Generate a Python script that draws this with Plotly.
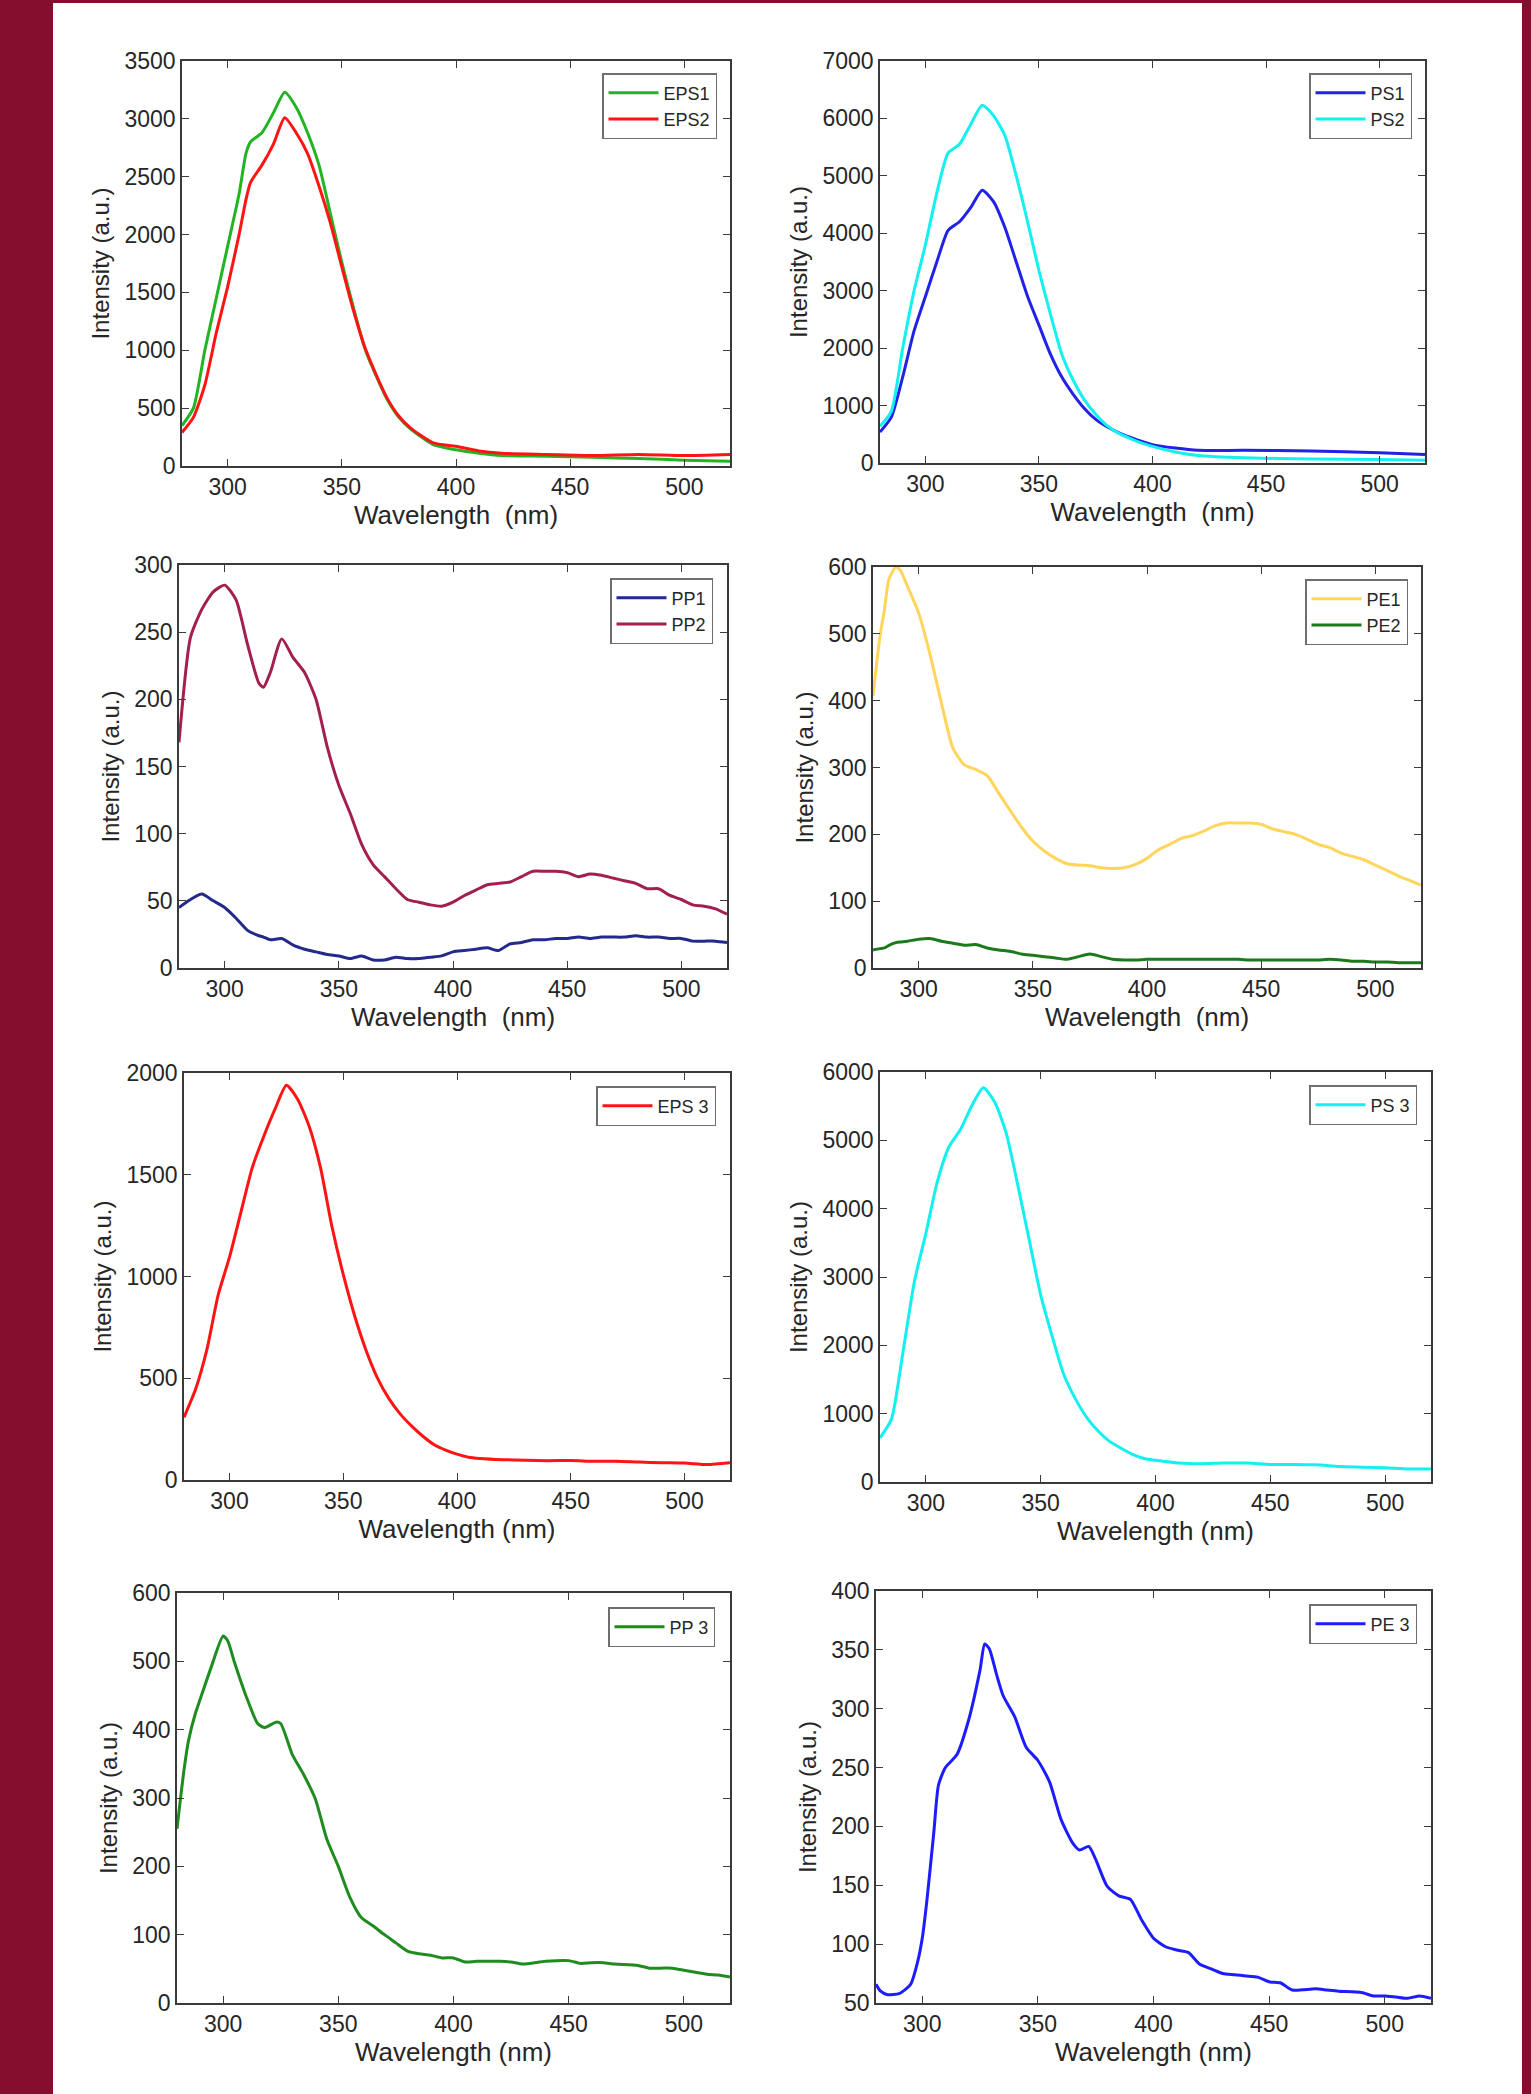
import plotly.graph_objects as go

# ---------------- data ----------------
# Panel 1: EPS1 / EPS2
wl_p1 = [280, 285, 290, 295, 300, 305, 308, 310, 315, 320, 325, 330, 335, 340, 345, 350, 355, 360,
         365, 370, 375, 380, 390, 400, 410, 420, 440, 460, 480, 500, 520]
eps1 = [350, 500, 1000, 1450, 1900, 2350, 2700, 2800, 2880, 3050, 3230, 3100, 2880, 2600, 2180, 1760,
        1375, 1020, 780, 570, 420, 320, 185, 140, 110, 90, 85, 75, 65, 50, 40]
eps2 = [290, 420, 700, 1150, 1550, 2000, 2300, 2450, 2600, 2780, 3010, 2880, 2700, 2420, 2100, 1720,
        1350, 1030, 790, 580, 430, 330, 200, 170, 130, 110, 100, 90, 100, 90, 100]

# Panel 2: PS1 / PS2
wl_p2 = [280, 285, 290, 295, 300, 305, 310, 315, 320, 325, 330, 335, 340, 345, 350, 355, 360, 365,
         370, 375, 380, 385, 390, 395, 400, 410, 420, 440, 470, 500, 520]
ps1 = [540, 800, 1500, 2300, 2900, 3500, 4050, 4200, 4450, 4750, 4550, 4100, 3500, 2900, 2400, 1900,
       1500, 1200, 950, 760, 630, 530, 450, 380, 320, 260, 220, 220, 210, 180, 150]
ps2 = [640, 900, 2000, 3000, 3800, 4700, 5400, 5550, 5900, 6230, 6050, 5700, 5000, 4200, 3350, 2600,
       1900, 1450, 1100, 850, 650, 520, 430, 350, 290, 190, 130, 90, 70, 60, 50]

# Panel 3: PP1 / PP2
wl_p3 = [280, 285, 290, 295, 300, 305, 310, 315, 317, 320, 325, 330, 335, 340, 345, 350, 355, 360,
         365, 370, 375, 380, 385, 390, 395, 400, 405, 410, 415, 420, 425, 430, 435, 440, 445, 450,
         455, 460, 465, 470, 475, 480, 485, 490, 495, 500, 505, 510, 515, 520]
pp1 = [45, 51, 55, 50, 45, 37, 28, 24, 23, 21, 22, 17, 14, 12, 10, 9, 7, 9,
       6, 6, 8, 7, 7, 8, 9, 12, 13, 14, 15, 13, 18, 19, 21, 21, 22, 22,
       23, 22, 23, 23, 23, 24, 23, 23, 22, 22, 20, 20, 20, 19]
pp2 = [168, 246, 267, 280, 285, 274, 241, 212, 209, 220, 245, 231, 220, 200, 164, 136, 115, 92,
       77, 68, 59, 51, 49, 47, 46, 49, 54, 58, 62, 63, 64, 68, 72, 72, 72, 71,
       68, 70, 69, 67, 65, 63, 59, 59, 54, 51, 47, 46, 44, 40]

# Panel 4: PE1 / PE2
wl_p4 = [280, 283, 285, 287, 290, 292, 295, 300, 305, 310, 315, 320, 325, 330, 335, 340, 345, 350,
         355, 360, 365, 370, 375, 380, 385, 390, 395, 400, 405, 410, 415, 420, 425, 430, 435, 440,
         445, 450, 455, 460, 465, 470, 475, 480, 485, 490, 495, 500, 505, 510, 515, 520]
pe1 = [407, 495, 536, 582, 600, 595, 572, 531, 469, 396, 329, 304, 297, 288, 262, 236, 211, 190,
       175, 164, 156, 154, 153, 150, 149, 150, 155, 164, 177, 185, 194, 198, 205, 213, 217, 217,
       217, 215, 208, 204, 200, 193, 185, 180, 172, 167, 162, 154, 146, 138, 131, 124]
pe2 = [27, 29, 30, 34, 38, 39, 40, 43, 44, 40, 37, 34, 35, 30, 27, 25, 21, 19,
       17, 15, 13, 17, 21, 17, 13, 12, 12, 13, 13, 13, 13, 13, 13, 13, 13, 13,
       12, 12, 12, 12, 12, 12, 12, 13, 12, 10, 10, 9, 9, 8, 8, 8]

# Panel 5: EPS 3
wl_p5 = [280, 285, 290, 295, 300, 305, 310, 315, 320, 325, 330, 335, 340, 345, 350, 355, 360, 365,
         370, 375, 380, 385, 390, 395, 400, 405, 410, 420, 430, 440, 450, 460, 470, 480, 490, 500,
         510, 520]
eps3 = [308, 443, 638, 909, 1095, 1315, 1535, 1687, 1822, 1940, 1870, 1738, 1535, 1247, 1010, 807,
        638, 502, 401, 325, 266, 215, 173, 147, 127, 112, 106, 100, 97, 95, 96, 92, 92, 88, 85, 83,
        76, 85]

# Panel 6: PS 3
wl_p6 = [280, 285, 290, 295, 300, 305, 310, 315, 320, 325, 330, 335, 340, 345, 350, 355, 360, 365,
         370, 375, 380, 385, 390, 395, 400, 410, 420, 430, 440, 450, 460, 470, 480, 490, 500, 510, 520]
ps3 = [645, 920, 1900, 2937, 3642, 4398, 4902, 5154, 5506, 5768, 5557, 5103, 4348, 3542, 2736, 2131,
       1577, 1224, 947, 746, 594, 494, 403, 343, 317, 277, 267, 277, 277, 257, 257, 252, 227, 217,
       207, 191, 191]

# Panel 7: PP 3
wl_p7 = [280, 283, 285, 288, 290, 295, 300, 302, 305, 310, 315, 318, 320, 323, 325, 330, 335, 340,
         345, 350, 355, 360, 365, 370, 375, 380, 385, 390, 395, 400, 405, 410, 420, 425, 430, 440,
         450, 455, 460, 465, 470, 480, 485, 490, 495, 500, 505, 510, 515, 520]
pp3 = [255, 340, 384, 424, 444, 493, 537, 530, 498, 449, 409, 403, 406, 411, 409, 364, 334, 299,
       240, 200, 155, 125, 113, 100, 88, 76, 72, 70, 66, 66, 60, 61, 61, 60, 57, 61,
       62, 58, 59, 59, 57, 55, 51, 51, 51, 48, 45, 42, 41, 38]

# Panel 8: PE 3
wl_p8 = [280, 282, 285, 290, 293, 295, 298, 300, 302, 305, 307, 310, 315, 320, 325, 327, 329, 332,
         335, 340, 345, 350, 355, 360, 365, 368, 372, 375, 380, 385, 390, 395, 400, 405, 410, 415,
         420, 425, 430, 435, 440, 445, 450, 455, 460, 470, 475, 480, 490, 495, 500, 505, 510, 515, 520]
pe3 = [66, 60, 57, 58, 62, 66, 85, 105, 137, 195, 235, 250, 261, 290, 333, 355, 351, 330,
       311, 293, 267, 256, 238, 206, 186, 180, 183, 172, 149, 141, 138, 120, 105, 98, 95, 93,
       83, 79, 75, 74, 73, 72, 68, 67, 61, 62, 61, 60, 59, 56, 56, 55, 54, 56, 54]

x_ticks = [300, 350, 400, 450, 500]

# ---------------- layout geometry (pixel boxes in a 1531 x 2094 page) ----------------
W, H = 1531, 2094
boxes = [  # (left, top, right, bottom)
    (182, 61, 730, 466), (880, 61, 1425, 463),
    (179, 565, 727, 968), (873, 567, 1421, 968),
    (184, 1073, 730, 1480), (880, 1072, 1431, 1482),
    (177, 1593, 730, 2003), (876, 1591, 1431, 2003),
]
legend_pos = [(717, 73), (1412, 73), (713, 578), (1408, 579),
              (716, 1086), (1417, 1085), (715, 1607), (1417, 1604)]

panels = [
    dict(series=[("EPS1", wl_p1, eps1, "#22b422"), ("EPS2", wl_p1, eps2, "#ff1414")],
         yr=[0, 3500], dy=500, xt="Wavelength\u00a0 (nm)"),
    dict(series=[("PS1", wl_p2, ps1, "#2222e6"), ("PS2", wl_p2, ps2, "#14f0f0")],
         yr=[0, 7000], dy=1000, xt="Wavelength\u00a0 (nm)"),
    dict(series=[("PP1", wl_p3, pp1, "#232a8c"), ("PP2", wl_p3, pp2, "#a31f4f")],
         yr=[0, 300], dy=50, xt="Wavelength\u00a0 (nm)"),
    dict(series=[("PE1", wl_p4, pe1, "#ffd55c"), ("PE2", wl_p4, pe2, "#1c7a1c")],
         yr=[0, 600], dy=100, xt="Wavelength\u00a0 (nm)"),
    dict(series=[("EPS 3", wl_p5, eps3, "#ff1414")],
         yr=[0, 2000], dy=500, xt="Wavelength (nm)"),
    dict(series=[("PS 3", wl_p6, ps3, "#14f0f0")],
         yr=[0, 6000], dy=1000, xt="Wavelength (nm)"),
    dict(series=[("PP 3", wl_p7, pp3, "#1f8c1f")],
         yr=[0, 600], dy=100, xt="Wavelength (nm)"),
    dict(series=[("PE 3", wl_p8, pe3, "#1c1cff")],
         yr=[50, 400], dy=50, xt="Wavelength (nm)"),
]

FONT = "Liberation Sans, Arial, sans-serif"
AX_COL = "#3a3a3a"
TXT_COL = "#262626"

fig = go.Figure()
layout = dict(
    width=W, height=H, autosize=False,
    margin=dict(l=0, r=0, t=0, b=0, pad=0, autoexpand=False),
    paper_bgcolor="white", plot_bgcolor="white",
    font=dict(family=FONT, color=TXT_COL),
    shapes=[
        dict(type="rect", xref="paper", yref="paper", x0=0, x1=53 / W, y0=0, y1=1,
             fillcolor="#850d2d", line=dict(width=0), layer="below"),
        dict(type="rect", xref="paper", yref="paper", x0=1522 / W, x1=1, y0=0, y1=1,
             fillcolor="#850d2d", line=dict(width=0), layer="below"),
        dict(type="rect", xref="paper", yref="paper", x0=0, x1=1, y0=1 - 3 / H, y1=1,
             fillcolor="#850d2d", line=dict(width=0), layer="below"),
    ],
)

for i, p in enumerate(panels):
    n = i + 1
    sfx = "" if n == 1 else str(n)
    l, t, r, b = boxes[i]
    leg = "legend" + sfx
    for name, xs, ys, col in p["series"]:
        fig.add_trace(go.Scatter(
            x=xs, y=ys, name=name, mode="lines",
            line=dict(color=col, width=3, shape="spline", smoothing=0.6),
            xaxis="x" + sfx, yaxis="y" + sfx, legend=leg, showlegend=True,
        ))
    common = dict(showline=True, linecolor=AX_COL, linewidth=1.6, mirror="ticks",
                  ticks="inside", ticklen=7, tickwidth=1.3, tickcolor=AX_COL,
                  showgrid=False, zeroline=False, automargin=False,
                  tickfont=dict(family=FONT, size=23, color=TXT_COL))
    layout["xaxis" + sfx] = dict(
        domain=[l / W, r / W], anchor="y" + sfx, range=[280, 520],
        tickvals=x_ticks,
        title=dict(text=p["xt"], font=dict(family=FONT, size=26, color=TXT_COL), standoff=6),
        **common)
    layout["yaxis" + sfx] = dict(
        domain=[1 - b / H, 1 - t / H], anchor="x" + sfx, range=p["yr"],
        dtick=p["dy"], tick0=0,
        title=dict(text="Intensity (a.u.)", font=dict(family=FONT, size=24, color=TXT_COL), standoff=8),
        **common)
    lx, ly = legend_pos[i]
    layout[leg] = dict(
        x=lx / W, y=1 - ly / H, xanchor="right", yanchor="top",
        xref="paper", yref="paper",
        bgcolor="white", bordercolor="#6e6e6e", borderwidth=1.5,
        font=dict(family=FONT, size=18, color=TXT_COL),
        itemwidth=50, tracegroupgap=0,
    )

fig.update_layout(**layout)

page_fix = (
    "document.documentElement.style.margin='0';"
    "document.body.style.margin='0';document.body.style.padding='0';"
    "var d=document.getElementById('{plot_id}');"
    "d.style.position='absolute';d.style.left='0px';d.style.top='0px';"
)
fig.write_html("out.html", post_script=page_fix, config={"displayModeBar": False})
